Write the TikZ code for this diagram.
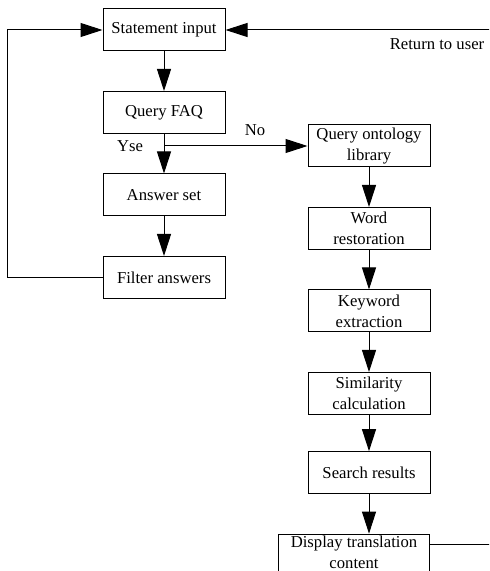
\documentclass[tikz,border=0pt]{standalone}
\usepackage{fontspec}
\setmainfont{Liberation Serif}
\usetikzlibrary{
    arrows.meta,
    calc,
    positioning
}

\begin{document}
\begin{tikzpicture}[x=0.6pt, y=-0.6pt,
        every node/.style={font=\fontsize{10}{12.6}\selectfont},
        box/.style={draw, line width=0.6pt, minimum width=73.2pt, minimum height=25.2pt, align=center, inner sep=1pt},
        arr/.style={-{Triangle[length=13.2pt, width=8.4pt]}, line width=0.6pt},
        node distance=23.7pt]
        \path[use as bounding box, clip] (0, 0) rectangle (489, 571);
        \node[box] at (164, 30) (statement) {Statement input};
        \node[box, below=of statement] (faq) {Query FAQ};
        \node[box, below=of faq] (answer) {Answer set};
        \node[box, below=of answer] (filter) {Filter answers};
        \node[box] at (369, 146) (onto) {Query ontology\\library};
        \node[box, below=of onto] (word) {Word\\restoration};
        \node[box, below=of word] (keyword) {Keyword\\extraction};
        \node[box, below=of keyword] (simil) {Similarity\\calculation};
        \node[box, below=of simil, yshift=2pt] (search) {Search results};
        \node[box, below=of search, xshift=-9pt, minimum width=90.6pt, inner ysep=0pt, text depth=3pt] (display) {Display translation\\content};
        \node at (255, 130) (lblno) {No};
        \node at (130, 146) (lblyes) {Yse};
        \node at (437, 44) (lblret) {Return to user};
        \coordinate (dispout) at ($(display.north east)!0.25!(display.south east)$);
        \coordinate (ret) at (500, 542);
        \draw
        (statement) edge[arr] (faq)
        (faq) edge[arr] (answer)
        (answer) edge[arr] (filter)
        (onto) edge[arr] (word)
        (word) edge[arr] (keyword)
        (keyword) edge[arr] (simil)
        (simil) edge[arr] (search)
        (search.south) edge[arr] (search.south |- display.north);
        \draw[arr] (faq.south |- onto.west) -- (onto.west);
        \draw[arr] (filter.west) -- ++(-95, 0) |- (statement.west);
        \draw[arr] (dispout) -- (dispout -| ret) |- (statement.east);
    \end{tikzpicture}
\end{document}
